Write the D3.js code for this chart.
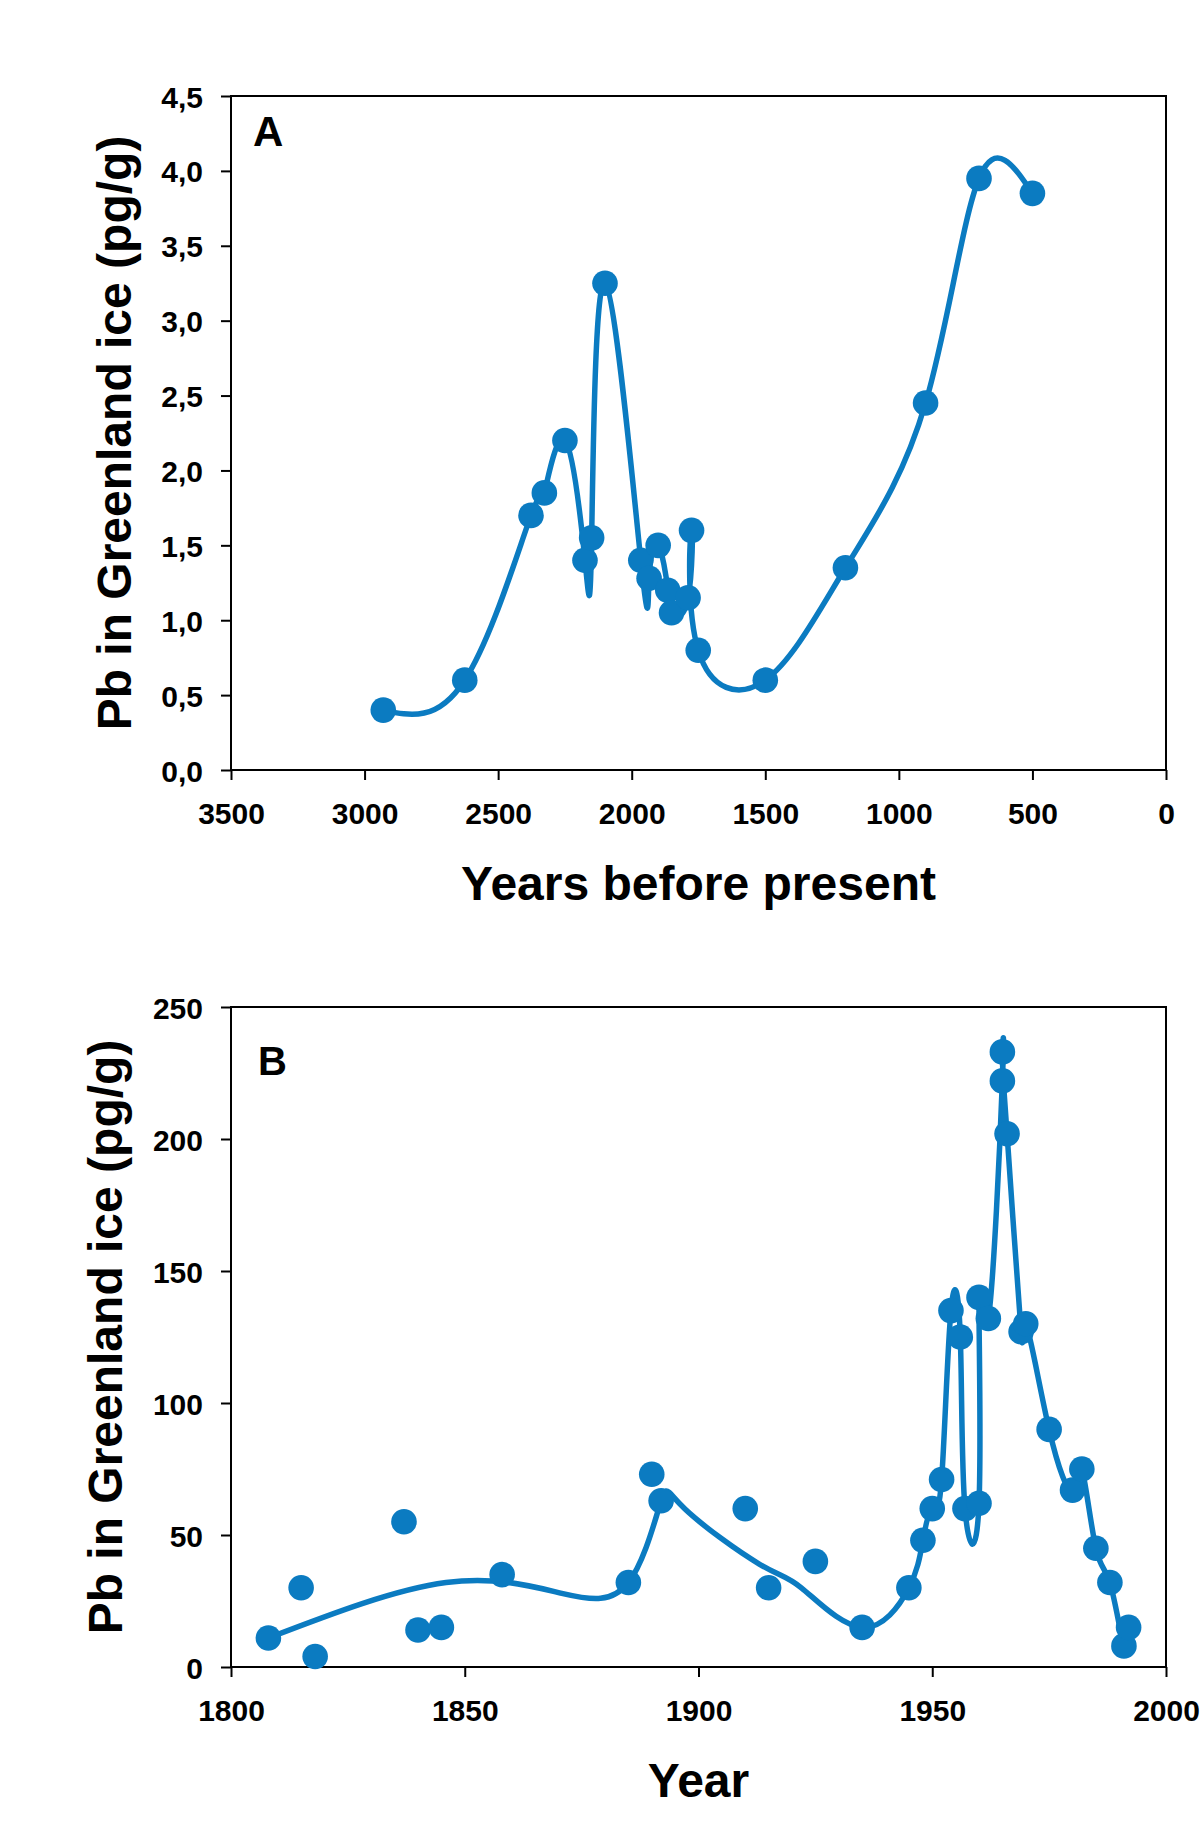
<!DOCTYPE html>
<html>
<head>
<meta charset="utf-8">
<script src="https://cdn.jsdelivr.net/npm/d3@7"></script>
<style>
  html, body { margin: 0; padding: 0; background: #ffffff; }
  svg { display: block; }
  text { font-family: "Liberation Sans", Arial, Helvetica, sans-serif; font-weight: bold; fill: #000; }
</style>
</head>
<body>
<svg id="chart" width="1200" height="1834"></svg>
<script>
// ---------- Panel A data ----------
const agesA = [2930, 2625, 2377, 2327, 2250, 2175, 2150, 2100, 1966, 1935, 1901, 1865, 1851, 1789, 1776, 1751, 1500, 1200, 900, 700, 500];
const pbA   = [0.40, 0.60, 1.70, 1.85, 2.20, 1.40, 1.55, 3.25, 1.40, 1.28, 1.50, 1.20, 1.05, 1.15, 1.60, 0.80, 0.60, 1.35, 2.45, 3.95, 3.85];
const xTicksA = [3500, 3000, 2500, 2000, 1500, 1000, 500, 0];
const yTicksA = [0, 0.5, 1.0, 1.5, 2.0, 2.5, 3.0, 3.5, 4.0, 4.5];

// ---------- Panel B data ----------
const yearsB = [1808, 1815, 1818, 1837, 1840, 1845, 1858, 1885, 1890, 1892, 1910, 1915, 1925, 1935, 1945, 1948, 1950, 1952, 1954, 1956, 1957, 1960, 1960, 1962, 1965, 1965, 1966, 1969, 1970, 1975, 1980, 1982, 1985, 1988, 1991, 1992];
const pbB    = [11, 30, 4, 55, 14, 15, 35, 32, 73, 63, 60, 30, 40, 15, 30, 48, 60, 71, 135, 125, 60, 62, 140, 132, 222, 233, 202, 127, 130, 90, 67, 75, 45, 32, 8, 15];
// fitted curve drawn in panel B
const curveYearsB = [1808, 1846, 1871, 1885, 1892, 1897, 1913, 1922, 1935, 1945, 1948, 1950, 1952, 1954, 1956, 1957, 1960, 1960, 1962, 1965, 1965, 1966, 1969, 1970, 1975, 1980, 1982, 1985, 1988, 1991, 1992];
const curvePbB    = [11, 32, 27.8, 32, 63, 60, 39, 30, 15, 30, 48, 60, 71, 135, 125, 60, 62, 140, 132, 222, 233, 202, 127, 130, 90, 67, 75, 45, 32, 8, 15];
const xTicksB = [1800, 1850, 1900, 1950, 2000];
const yTicksB = [0, 50, 100, 150, 200, 250];

const BLUE = "#0b7bc1";
const svg = d3.select("#chart");
svg.append("rect").attr("width", 1200).attr("height", 1834).attr("fill", "#fff");

function panel(cfg) {
  const x = d3.scaleLinear().domain(cfg.xDomain).range([cfg.left, cfg.right]);
  const y = d3.scaleLinear().domain(cfg.yDomain).range([cfg.bottom, cfg.top]);
  const g = svg.append("g");

  // frame
  g.append("rect")
    .attr("x", cfg.left).attr("y", cfg.top)
    .attr("width", cfg.right - cfg.left).attr("height", cfg.bottom - cfg.top)
    .attr("fill", "none").attr("stroke", "#000").attr("stroke-width", 2);

  // x axis
  const gx = g.append("g").attr("transform", `translate(0,${cfg.bottom})`)
    .call(d3.axisBottom(x).tickValues(cfg.xTicks).tickSize(10).tickSizeOuter(0).tickPadding(23).tickFormat(cfg.xFmt));
  gx.select(".domain").remove();
  gx.selectAll(".tick line").attr("stroke", "#000").attr("stroke-width", 2);
  gx.selectAll(".tick text").attr("font-size", 30).attr("fill", "#000")
    .style("font-family", '"Liberation Sans", Arial, sans-serif').style("font-weight", "bold");

  // y axis
  const gy = g.append("g").attr("transform", `translate(${cfg.left},0)`)
    .call(d3.axisLeft(y).tickValues(cfg.yTicks).tickSize(10).tickSizeOuter(0).tickPadding(18).tickFormat(cfg.yFmt));
  gy.select(".domain").remove();
  gy.selectAll(".tick line").attr("stroke", "#000").attr("stroke-width", 2);
  gy.selectAll(".tick text").attr("font-size", 30).attr("fill", "#000").attr("dy", "0.37em")
    .style("font-family", '"Liberation Sans", Arial, sans-serif').style("font-weight", "bold");

  // curve
  const line = d3.line().x(d => x(d[0])).y(d => y(d[1])).curve(d3.curveNatural);
  g.append("path").datum(d3.zip(cfg.cx, cfg.cy))
    .attr("d", line).attr("fill", "none").attr("stroke", BLUE)
    .attr("stroke-width", 5.5).attr("stroke-linejoin", "round").attr("stroke-linecap", "round");

  // points
  g.selectAll("circle.pt").data(d3.zip(cfg.px, cfg.py)).join("circle")
    .attr("class", "pt")
    .attr("cx", d => x(d[0])).attr("cy", d => y(d[1])).attr("r", 12.8)
    .attr("fill", BLUE);

  // panel letter
  g.append("text").attr("x", cfg.letterX).attr("y", cfg.letterY)
    .attr("font-size", cfg.letterSize).text(cfg.letter);

  // axis titles
  g.append("text").attr("x", (cfg.left + cfg.right) / 2).attr("y", cfg.bottom + 130)
    .attr("text-anchor", "middle").attr("font-size", 48).text(cfg.xTitle);
  g.append("text")
    .attr("transform", `translate(${cfg.yTitleX},${(cfg.top + cfg.bottom) / 2}) rotate(-90)`)
    .attr("text-anchor", "middle").attr("font-size", 48).text(cfg.yTitle);
}

const commaFmt = d => d3.format(".1f")(d).replace(".", ",");

panel({
  left: 231, right: 1166, top: 96, bottom: 770,
  xDomain: [3500, 0], yDomain: [0, 4.5],
  xTicks: xTicksA, yTicks: yTicksA,
  xFmt: d3.format("d"), yFmt: commaFmt,
  cx: agesA, cy: pbA, px: agesA, py: pbA,
  letter: "A", letterX: 253, letterY: 146, letterSize: 42,
  xTitle: "Years before present", yTitle: "Pb in Greenland ice (pg/g)", yTitleX: 131
});

panel({
  left: 231, right: 1166, top: 1007, bottom: 1667,
  xDomain: [1800, 2000], yDomain: [0, 250],
  xTicks: xTicksB, yTicks: yTicksB,
  xFmt: d3.format("d"), yFmt: d3.format("d"),
  cx: curveYearsB, cy: curvePbB, px: yearsB, py: pbB,
  letter: "B", letterX: 258, letterY: 1075, letterSize: 40,
  xTitle: "Year", yTitle: "Pb in Greenland ice (pg/g)", yTitleX: 122
});
</script>
</body>
</html>
